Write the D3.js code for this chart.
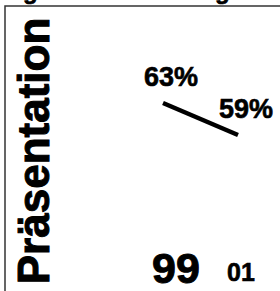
<!DOCTYPE html>
<html>
<head>
<meta charset="utf-8">
<script src="https://cdn.jsdelivr.net/npm/d3@7"></script>
<style>
  body { margin: 0; background: #fff; }
  text { font-family: "Liberation Sans", Arial, sans-serif; font-weight: bold; fill: #000; stroke: #000; }
</style>
</head>
<body>
<div id="chart"></div>
<script>
// data
const years = ["99", "01"];
const shares = [63, 59];
const shareLabels = ["63%", "59%"];
const yLabel = "Präsentation";
const titleBits = ["g", "g"];

const W = 280, H = 291;

const svg = d3.select("#chart").append("svg")
    .attr("width", W)
    .attr("height", H);

// frame (top + left edges of the panel)
svg.append("path")
    .attr("fill", "none")
    .attr("stroke", "#333")
    .attr("stroke-width", 1.5)
    .attr("d", "M5,291L5,6L280,6");

// cropped title, only the descenders show
svg.selectAll(".title-bit")
    .data(titleBits)
    .enter().append("text")
    .attr("class", "title-bit")
    .attr("x", (d, i) => i == 0 ? 23 : 215)
    .attr("y", -1)
    .style("font-size", "24px")
    .style("stroke-width", 0.6)
    .text(d => d);

// y label
svg.append("text")
    .attr("transform", "translate(49,151) rotate(-90)")
    .attr("text-anchor", "middle")
    .style("font-size", "44px")
    .style("stroke-width", 1)
    .text(yLabel);

// scales
const x = d3.scalePoint()
    .domain(years)
    .range([163, 238]);

const y = d3.scaleLinear()
    .domain([59, 63])
    .range([135, 103]);

// slope line
svg.append("path")
    .datum(shares)
    .attr("fill", "none")
    .attr("stroke", "#000")
    .attr("stroke-width", 4.5)
    .attr("d", d3.line()
        .x((d, i) => x(years[i]))
        .y(d => y(d)));

// value labels
svg.selectAll(".val")
    .data(shares)
    .enter().append("text")
    .attr("class", "val")
    .attr("x", (d, i) => x(years[i]) + 8)
    .attr("y", d => y(d) - 17)
    .attr("text-anchor", "middle")
    .style("font-size", "27px")
    .style("stroke-width", 0.6)
    .text((d, i) => shareLabels[i]);

// x labels
svg.selectAll(".yr")
    .data(years)
    .enter().append("text")
    .attr("class", "yr")
    .attr("x", (d, i) => i == 0 ? x(d) + 13 : x(d) + 3)
    .attr("y", (d, i) => i == 0 ? 283 : 281)
    .attr("text-anchor", "middle")
    .style("font-size", (d, i) => i == 0 ? "43px" : "25px")
    .style("stroke-width", (d, i) => i == 0 ? 1 : 0.6)
    .text(d => d);
</script>
</body>
</html>
